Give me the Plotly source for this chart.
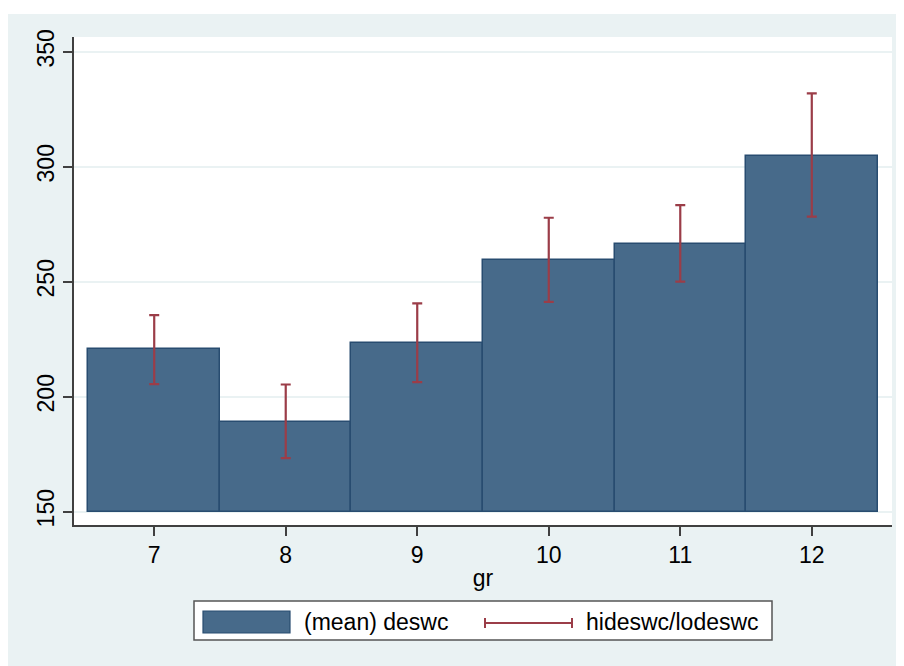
import plotly.graph_objects as go

# Data
groups = [7, 8, 9, 10, 11, 12]
mean_deswc = [220.6, 189.0, 223.2, 259.3, 266.5, 304.8]
hi_deswc = [235.5, 205.3, 240.6, 277.8, 283.3, 331.9]
lo_deswc = [205.5, 173.3, 206.3, 241.2, 250.0, 278.3]
y_ticks = [150, 200, 250, 300, 350]
bar_base = 150

BAR_FILL = "#476A8A"
BAR_LINE = "#284C70"
ERR_COLOR = "#9B3D48"
BG = "#EAF2F3"
FONT = "Liberation Sans, Arial, sans-serif"
FS = 23

OFF = 8  # page body margin
W, H = 904 - OFF, 666 - OFF
L, R, T, B = 74 - OFF, 904 - 892, 37 - OFF, 666 - 525
PW, PH = W - L - R, H - T - B


def px(sx):
    return (sx - OFF - L) / PW


def py(sy):
    return (H - B - (sy - OFF)) / PH


fig = go.Figure()
fig.add_trace(go.Bar(
    x=groups,
    y=[m - bar_base for m in mean_deswc],
    base=bar_base,
    width=1,
    marker=dict(color=BAR_FILL, line=dict(color=BAR_LINE, width=1.5)),
    name="(mean) deswc",
    showlegend=False,
))
fig.add_trace(go.Scatter(
    x=groups,
    y=mean_deswc,
    mode="markers",
    marker=dict(size=1, opacity=0),
    error_y=dict(
        type="data",
        symmetric=False,
        array=[h - m for h, m in zip(hi_deswc, mean_deswc)],
        arrayminus=[m - l for m, l in zip(mean_deswc, lo_deswc)],
        color=ERR_COLOR,
        thickness=2.2,
        width=5,
    ),
    name="hideswc/lodeswc",
    showlegend=False,
))

shapes = []
# white top strip (outside plot area)
shapes.append(dict(type="rect", xref="paper", yref="paper",
                   x0=px(0), x1=px(910), y0=py(14), y1=py(0),
                   fillcolor="white", line=dict(width=0), layer="above"))
# legend box
shapes.append(dict(type="rect", xref="paper", yref="paper",
                   x0=px(194), x1=px(772), y0=py(640), y1=py(601),
                   fillcolor="white", line=dict(color="#555555", width=1.5), layer="above"))
# legend bar symbol
shapes.append(dict(type="rect", xref="paper", yref="paper",
                   x0=px(203), x1=px(290), y0=py(633), y1=py(611),
                   fillcolor=BAR_FILL, line=dict(color=BAR_LINE, width=1.2), layer="above"))
# legend error symbol
shapes.append(dict(type="line", xref="paper", yref="paper",
                   x0=px(485), x1=px(572), y0=py(623), y1=py(623),
                   line=dict(color=ERR_COLOR, width=2), layer="above"))
for xx in (485, 572):
    shapes.append(dict(type="line", xref="paper", yref="paper",
                       x0=px(xx), x1=px(xx), y0=py(618), y1=py(628),
                       line=dict(color=ERR_COLOR, width=2), layer="above"))

annotations = [
    dict(text="(mean) deswc", xref="paper", yref="paper", x=px(302), y=py(622),
         xanchor="left", yanchor="middle", showarrow=False,
         font=dict(family=FONT, size=FS, color="#000000")),
    dict(text="hideswc/lodeswc", xref="paper", yref="paper", x=px(584), y=py(622),
         xanchor="left", yanchor="middle", showarrow=False,
         font=dict(family=FONT, size=FS, color="#000000")),
]

fig.update_layout(
    width=W, height=H,
    margin=dict(l=L, r=R, t=T, b=B, pad=0),
    paper_bgcolor=BG,
    plot_bgcolor="white",
    font=dict(family=FONT, size=FS, color="#000000"),
    showlegend=False,
    bargap=0,
    shapes=shapes,
    annotations=annotations,
    xaxis=dict(
        range=[6.39, 12.61],
        tickmode="array", tickvals=groups, ticktext=[str(g) for g in groups],
        ticks="outside", ticklen=9, tickwidth=1.5, tickcolor="#404040",
        showline=True, linecolor="#404040", linewidth=1.5,
        showgrid=False, zeroline=False,
        title=dict(text="gr", font=dict(size=FS), standoff=3),
        tickfont=dict(size=FS),
    ),
    yaxis=dict(
        range=[144.2, 356.4],
        tickmode="array", tickvals=y_ticks,
        tickangle=-90,
        ticks="outside", ticklen=9, tickwidth=1.5, tickcolor="#404040",
        showline=True, linecolor="#404040", linewidth=1.5,
        showgrid=True, gridcolor=BG, gridwidth=1.5,
        zeroline=False,
        tickfont=dict(size=FS),
    ),
)

fig.write_html("out.html")
